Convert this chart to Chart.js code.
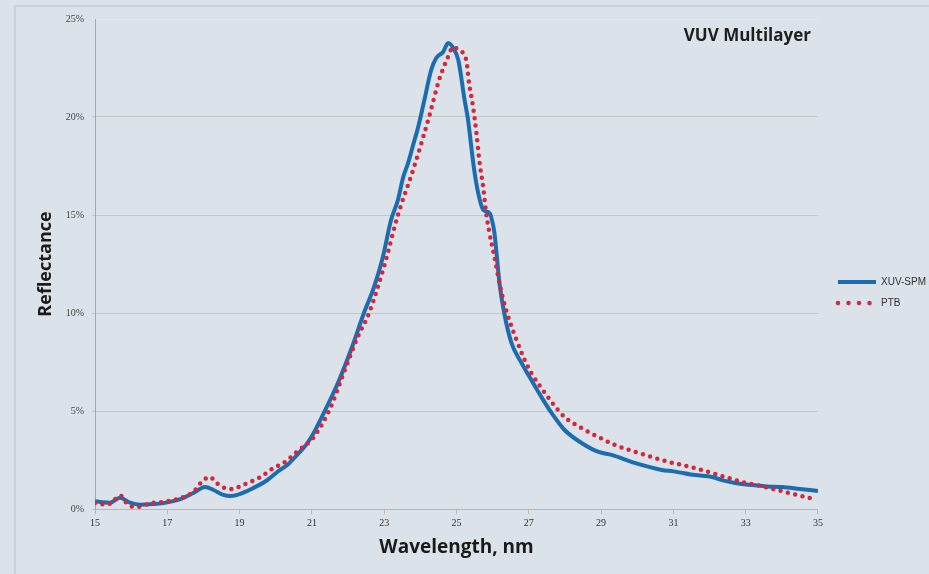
<!DOCTYPE html>
<html>
<head>
<meta charset="utf-8">
<title>VUV Multilayer reflectance</title>
<script src="https://cdn.jsdelivr.net/npm/chart.js@4.4.1/dist/chart.umd.min.js"></script>
<style>
  html, body { margin: 0; padding: 0; background: #dbe2e9; overflow: hidden; }
  #wrap { position: relative; width: 929px; height: 574px; overflow: hidden; }
  #frame { position: absolute; left: 14px; top: 5px; right: -4px; bottom: -4px;
           border-top: 2px solid #cdd1d5; border-left: 2px solid #cdd1d5; pointer-events: none; }
</style>
</head>
<body>
<div id="wrap">
  <canvas id="reflChart" width="936" height="574"></canvas>
  <div id="frame"></div>
</div>
<script>
// Measured reflectance (%) vs wavelength (nm)
var spmWavelength = [15.0, 15.2, 15.42, 15.69, 15.97, 16.25, 16.6, 16.89, 17.36, 17.72, 18.05, 18.28, 18.55, 18.75, 19.02,
  19.38, 19.77, 20.05, 20.35, 20.61, 20.85, 21.05, 21.33, 21.72, 22.08, 22.44, 22.72, 22.95, 23.19, 23.38, 23.52, 23.66,
  23.8, 23.94, 24.1, 24.3, 24.44, 24.63, 24.77, 24.91, 25.05, 25.13, 25.21, 25.32, 25.41, 25.49, 25.6, 25.74, 25.88,
  25.96, 26.05, 26.1, 26.19, 26.32, 26.52, 26.8, 27.07, 27.35, 27.63, 27.99, 28.46, 28.93, 29.29, 29.93, 30.68, 31.0,
  31.6, 32.07, 32.4, 32.71, 33.18, 33.6, 34.01, 34.5, 35.0];
var spmReflectance = [0.40, 0.35, 0.32, 0.58, 0.32, 0.22, 0.25, 0.30, 0.50, 0.82, 1.12, 0.97, 0.72, 0.66, 0.77,
  1.07, 1.48, 1.90, 2.30, 2.80, 3.30, 3.88, 4.90, 6.43, 8.11, 10.0, 11.33, 12.75, 14.74, 15.77, 16.89, 17.65,
  18.57, 19.49, 20.77, 22.4, 23.01, 23.32, 23.78, 23.52, 22.91, 22.04, 21.02, 19.85, 18.47, 17.3, 16.12, 15.26, 15.15,
  14.9, 14.08, 13.2, 11.5, 10.0, 8.47, 7.45, 6.58, 5.71, 4.9, 4.03, 3.37, 2.91, 2.76, 2.35, 1.99, 1.92,
  1.73, 1.63, 1.45, 1.33, 1.22, 1.15, 1.12, 1.02, 0.92];

var ptbWavelength = [15.0, 15.33, 15.5, 15.69, 15.85, 16.03, 16.25, 16.53, 16.89, 17.36, 17.72, 18.0, 18.19, 18.33, 18.52,
  18.75, 18.97, 19.22, 19.58, 19.94, 20.22, 20.6, 21.05, 21.52, 21.88, 22.27, 22.58, 23.0, 23.38, 23.8, 24.24, 24.52,
  24.75, 24.91, 25.07, 25.27, 25.35, 25.46, 25.55, 25.63, 25.74, 25.82, 25.91, 26.05, 26.19, 26.32, 26.46, 26.66, 26.85,
  27.07, 27.35, 27.63, 27.99, 28.46, 28.93, 29.38, 30.21, 30.88, 31.6, 32.26, 32.9, 33.54, 34.2, 34.9];
var ptbReflectance = [0.30, 0.22, 0.40, 0.70, 0.35, 0.12, 0.12, 0.30, 0.36, 0.56, 0.87, 1.48, 1.63, 1.38, 1.12,
  1.02, 1.12, 1.33, 1.63, 2.09, 2.35, 2.95, 3.67, 5.2, 6.94, 8.78, 10.0, 12.4, 15.0, 17.3, 20.0, 21.9,
  23.0, 23.57, 23.4, 22.9, 21.7, 20.5, 19.2, 17.8, 16.4, 15.1, 14.1, 12.86, 11.5, 10.5, 9.64, 8.62, 7.76,
  6.94, 6.17, 5.46, 4.69, 4.13, 3.67, 3.27, 2.76, 2.4, 2.09, 1.73, 1.38, 1.12, 0.82, 0.51];

var wavelengthTicks = [15, 17, 19, 21, 23, 25, 27, 29, 31, 33, 35];
var reflectanceTicks = [0, 5, 10, 15, 20, 25];

function toPoints(xs, ys) {
  return xs.map(function (x, i) { return { x: x, y: ys[i] }; });
}

var serifTicks = { family: '"Liberation Serif", serif', size: 10 };
var boldLabel = { family: '"Open Sans", sans-serif', size: 18, weight: 'bold' };

// "VUV Multilayer" sits inside the plot, top right
var cornerTitle = {
  id: 'cornerTitle',
  afterDatasetsDraw: function (chart) {
    var ctx = chart.ctx, a = chart.chartArea;
    ctx.save();
    ctx.font = 'bold 17px "Open Sans", sans-serif';
    ctx.fillStyle = '#1e1e1e';
    ctx.textAlign = 'right';
    ctx.textBaseline = 'middle';
    ctx.fillText('VUV Multilayer', a.right - 7, a.top + 17);
    ctx.restore();
  }
};

// empty layout box between the plot and the legend
var legendGap = {
  id: 'legendGap',
  beforeInit: function (chart) {
    Chart.layouts.addBox(chart, {
      position: 'right',
      weight: 500,
      fullSize: false,
      options: {},
      left: 0, top: 0, right: 0, bottom: 0, width: 0, height: 0,
      isHorizontal: function () { return false; },
      update: function (maxWidth, maxHeight) { this.width = 9; this.height = maxHeight; },
      draw: function () {}
    });
  }
};

new Chart(document.getElementById('reflChart'), {
  type: 'line',
  data: {
    datasets: [{
      label: 'XUV-SPM',
      data: toPoints(spmWavelength, spmReflectance),
      borderColor: '#1c6db0',
      backgroundColor: '#1c6db0',
      borderWidth: 4,
      pointRadius: 0,
      pointStyle: 'line',
      cubicInterpolationMode: 'monotone',
      order: 1
    }, {
      label: 'PTB',
      data: toPoints(ptbWavelength, ptbReflectance),
      borderColor: '#d4263c',
      backgroundColor: '#d4263c',
      borderWidth: 4.5,
      borderDash: [0, 7.5],
      borderCapStyle: 'round',
      pointRadius: 0,
      pointStyle: 'line',
      cubicInterpolationMode: 'monotone',
      order: 0
    }]
  },
  options: {
    responsive: false,
    animation: false,
    layout: { padding: { left: 20, top: 19, right: 0, bottom: 8 } },
    plugins: {
      tooltip: { enabled: false },
      legend: {
        position: 'right',
        labels: {
          usePointStyle: true,
          pointStyleWidth: 38,
          padding: 11,
          color: '#333',
          font: { family: '"Liberation Sans", sans-serif', size: 10 },
          sort: function (a, b) { return a.datasetIndex - b.datasetIndex; },
          // line samples: solid stroke, or wider-spaced round dots for the dotted series
          generateLabels: function (chart) {
            var items = Chart.defaults.plugins.legend.labels.generateLabels(chart);
            items.forEach(function (item) {
              var ds = chart.data.datasets[item.datasetIndex];
              item.lineDash = ds.borderDash ? [0, 10.5] : [];
              item.lineCap = ds.borderCapStyle || 'butt';
              item.lineWidth = ds.borderWidth;
              item.strokeStyle = ds.borderColor;
            });
            return items;
          }
        }
      }
    },
    scales: {
      x: {
        type: 'linear',
        min: 15,
        max: 35,
        afterBuildTicks: function (scale) {
          scale.ticks = wavelengthTicks.map(function (v) { return { value: v }; });
        },
        afterFit: function (scale) { scale.height = 57; },
        grid: { drawOnChartArea: false, drawTicks: true, tickLength: 5, color: '#c8b3a0' },
        border: { color: '#c8b3a0', width: 1 },
        ticks: { color: '#333', font: serifTicks, padding: 3, maxRotation: 0 },
        title: {
          display: true, text: 'Wavelength, nm', color: '#1a1a1a',
          font: { family: '"Open Sans", sans-serif', size: 19, weight: 'bold' },
          padding: { top: 0, bottom: 7 }
        }
      },
      y: {
        min: 0,
        max: 25,
        afterBuildTicks: function (scale) {
          scale.ticks = reflectanceTicks.map(function (v) { return { value: v }; });
        },
        afterFit: function (scale) { scale.width = 75; },
        grid: {
          color: function (ctx) { return ctx.tick && ctx.tick.value === 25 ? '#e6e8ea' : '#c5c6c7'; },
          lineWidth: 1,
          tickLength: 3
        },
        border: { color: '#a3a7ab', width: 1 },
        ticks: {
          color: '#444',
          font: serifTicks,
          padding: 8,
          callback: function (v) { return v + '%'; }
        },
        title: { display: true, text: 'Reflectance', color: '#1a1a1a', font: boldLabel, padding: { top: 15, bottom: 0 } }
      }
    }
  },
  plugins: [cornerTitle, legendGap]
});
</script>
</body>
</html>
